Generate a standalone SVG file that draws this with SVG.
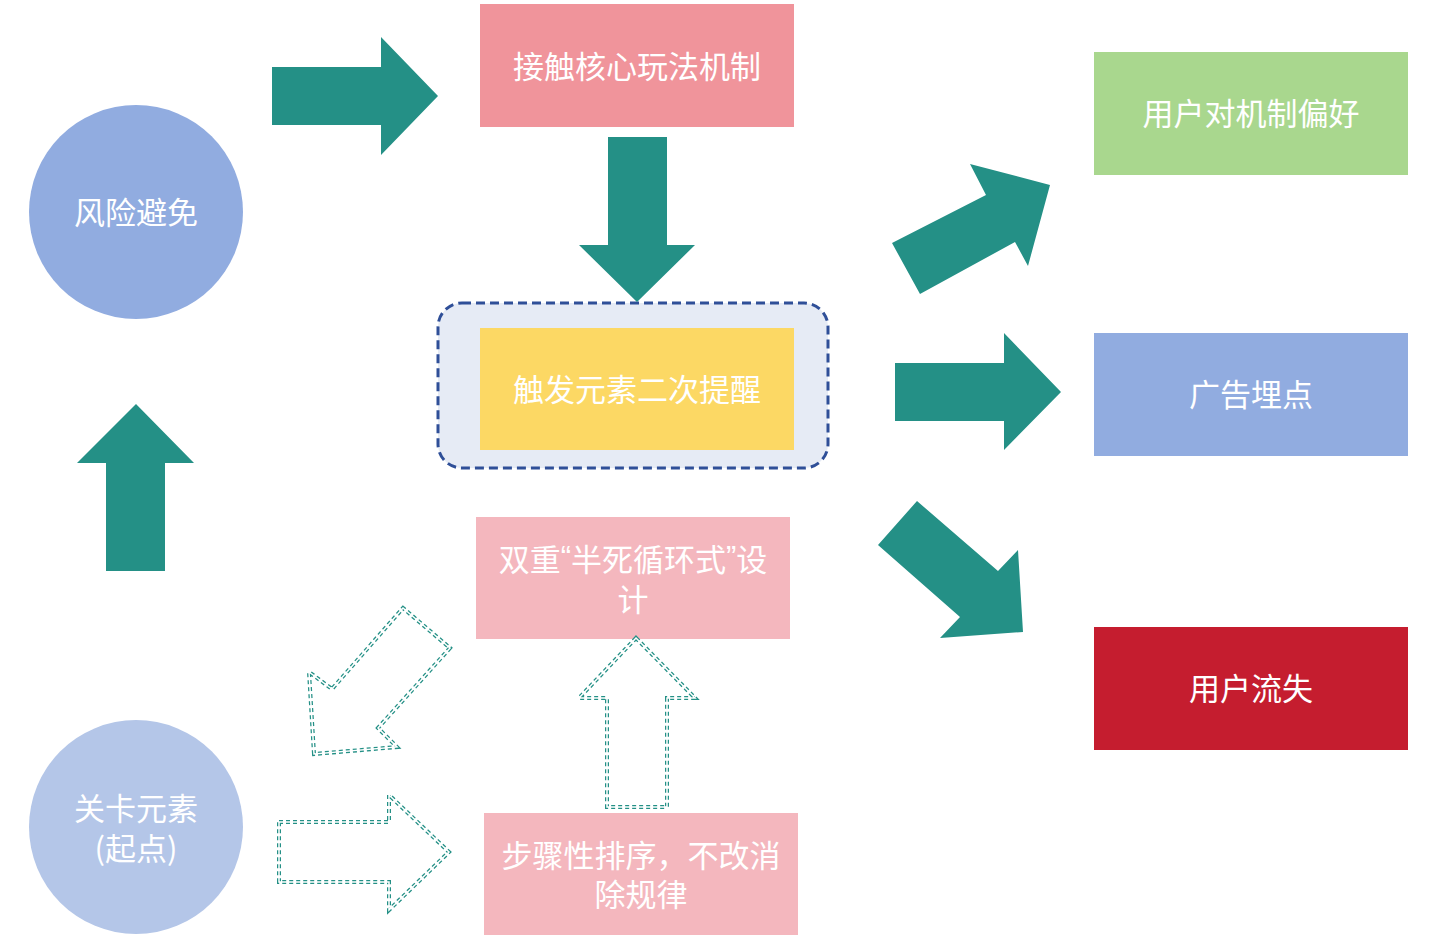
<svg xmlns="http://www.w3.org/2000/svg" width="1440" height="942" viewBox="0 0 1440 942">
<style>
text{font-family:"Noto Sans CJK SC","Noto Sans",sans-serif;font-size:31px;fill:#fff;text-anchor:middle;dominant-baseline:central}
.q{font-family:"Liberation Sans",sans-serif}
.a{fill:#249086}
.d1{fill:none;stroke:#249086;stroke-width:4;stroke-dasharray:4 3}
.d2{fill:none;stroke:#fff;stroke-width:1.5}
</style>
<rect width="1440" height="942" fill="#fff"/>
<g id="n1"><circle cx="136" cy="212" r="107" fill="#91ACE0"/><text x="136" y="210">风险避免</text></g>
<g id="n2"><circle cx="136" cy="827" r="107" fill="#B4C6E8"/><text x="136" y="806">关卡元素</text><text x="136" y="846">(起点)</text></g>
<g id="n3"><rect x="480" y="4" width="314" height="123" fill="#F0949B"/><text x="637" y="64">接触核心玩法机制</text></g>
<g id="n4"><rect x="438" y="303" width="390" height="165" rx="24" fill="#E6EBF5" stroke="#2F4F98" stroke-width="3" stroke-dasharray="9 5"/><rect x="480" y="328" width="314" height="122" fill="#FCD864"/><text x="637" y="387">触发元素二次提醒</text></g>
<g id="n5"><rect x="476" y="517" width="314" height="122" fill="#F4B7BE"/><text x="633" y="557">双重<tspan class="q">“</tspan>半死循环式<tspan class="q">”</tspan>设</text><text x="633" y="597">计</text></g>
<g id="n6"><rect x="484" y="813" width="314" height="122" fill="#F4B7BE"/><text x="641" y="853">步骤性排序，不改消</text><text x="641" y="892">除规律</text></g>
<g id="n7"><rect x="1094" y="52" width="314" height="123" fill="#A9D78E"/><text x="1251" y="111">用户对机制偏好</text></g>
<g id="n8"><rect x="1094" y="333" width="314" height="123" fill="#91ACE0"/><text x="1251" y="392">广告埋点</text></g>
<g id="n9"><rect x="1094" y="627" width="314" height="123" fill="#C51D2F"/><text x="1251" y="686">用户流失</text></g>
<g id="connectors">
<polygon class="a" points="272,67 381,67 381,37 438,96 381,155 381,125 272,125"/>
<polygon class="a" points="608,137 667,137 667,245 695,245 637,302 579,245 608,245"/>
<polygon class="a" points="136,404 194,463 165,463 165,571 106,571 106,463 77,463"/>
<polygon class="a" points="895,363 1004,363 1004,333 1061,392 1004,450 1004,421 895,421"/>
<polygon class="a" points="892,243 986,195 970,164 1050,185 1028,266 1015,242 920,294"/>
<polygon class="a" points="917,501 998,571 1018,550 1023,632 940,638 960,617 878,545"/>
<g id="dotted">
<path class="d1" d="M279,822 H389 V795 L449,852 L389,910 V882 H279 Z"/>
<path class="d2" d="M279,822 H389 V795 L449,852 L389,910 V882 H279 Z"/>
<path class="d1" d="M636,638 L695,698 H667 V807 H607 V698 H579 Z"/>
<path class="d2" d="M636,638 L695,698 H667 V807 H607 V698 H579 Z"/>
<path class="d1" d="M314,754 L309,672 L332,689 L403,608 L450,648 L378,728 L397,747 Z"/>
<path class="d2" d="M314,754 L309,672 L332,689 L403,608 L450,648 L378,728 L397,747 Z"/>
</g>
</g>
</svg>
